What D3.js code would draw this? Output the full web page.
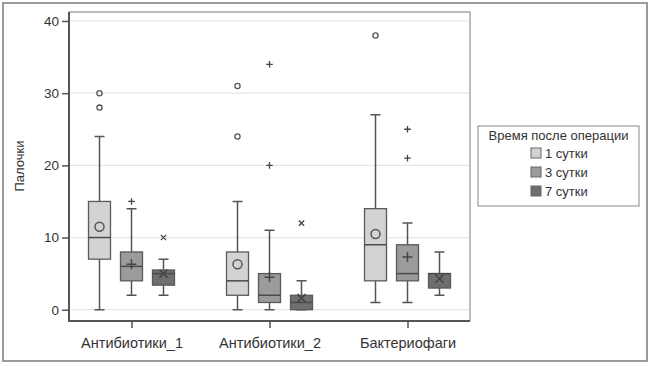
<!DOCTYPE html>
<html><head><meta charset="utf-8">
<script src="https://cdn.jsdelivr.net/npm/d3@7"></script>
<style>body{margin:0;background:#fff;} svg{display:block;}</style>
</head><body><svg id="c" width="650" height="365"></svg>
<script>
const categories = ["Антибиотики_1", "Антибиотики_2", "Бактериофаги"];
const seriesNames = ["1 сутки", "3 сутки", "7 сутки"];
const yTicks = [0, 10, 20, 30, 40];
// per category: [whiskerLow, Q1, median, Q3, whiskerHigh]
const stats1 = [[0, 7, 10, 15, 24], [0, 2, 4, 8, 15], [1, 4, 9, 14, 27]];
const stats3 = [[2, 4, 6, 8, 14], [0, 1, 2, 5, 11], [1, 4, 5, 9, 12]];
const stats7 = [[2, 3.4, 5, 5.5, 7], [0, 0, 1, 2, 4], [2, 3, 5, 5, 8]];
const means1 = [11.5, 6.3, 10.5];
const means3 = [6.3, 4.5, 7.3];
const means7 = [5, 1.6, 4.3];
const outliers1 = [[28, 30], [24, 31], [38]];
const outliers3 = [[15], [20, 34], [21, 25]];
const outliers7 = [[10], [12], []];
const fills = ["#d3d3d3", "#9b9b9b", "#6f6f6f"];
const shapes = ["circle", "plus", "cross"];

const svg = d3.select("#c");
const font = "'Liberation Sans', Arial, sans-serif";
// outer frame
svg.append("rect").attr("x", 3).attr("y", 3).attr("width", 644).attr("height", 358)
  .attr("fill", "none").attr("stroke", "#9a9a9a").attr("stroke-width", 2);

const L = 69, R = 470, T = 12, B = 321;
const y = d3.scaleLinear().domain([0, 40]).range([309.7, 21]);
const x = d3.scalePoint().domain(categories).range([131.5, 407.5]);
const off = d3.scalePoint().domain(seriesNames).range([-32, 32]);
const bw = 22, cap = 10;

// grid
svg.append("g").selectAll("line").data(yTicks).join("line")
  .attr("x1", L).attr("x2", R).attr("y1", d => y(d)).attr("y2", d => y(d))
  .attr("stroke", "#e6e6e6").attr("stroke-width", 1.2);
// plot frame top/right
svg.append("path").attr("d", `M${L},${T}H${R}V${B}`).attr("fill", "none")
  .attr("stroke", "#a8a8a8").attr("stroke-width", 1.5);

// axes
const yAxis = svg.append("g").attr("transform", `translate(${L},0)`)
  .call(d3.axisLeft(y).tickValues(yTicks).tickSize(7).tickPadding(3));
const xAxis = svg.append("g").attr("transform", `translate(0,${B})`)
  .call(d3.axisBottom(x).tickSize(7).tickPadding(10));
[yAxis, xAxis].forEach(g => {
  g.select(".domain").remove();
  g.selectAll("line").attr("stroke", "#555").attr("stroke-width", 1.5);
  g.selectAll("text").attr("fill", "#333").attr("font-family", font).attr("font-size", 13.5);
});
xAxis.selectAll("text").attr("font-size", 14.5);
svg.append("path").attr("d", `M${L},${T}V${B}H${R}`).attr("fill", "none")
  .attr("stroke", "#555").attr("stroke-width", 2);

svg.append("text").attr("transform", "translate(24,166) rotate(-90)")
  .attr("text-anchor", "middle").attr("font-family", font).attr("font-size", 13)
  .attr("fill", "#333").text("Палочки");

function marker(g, shape, cx, cy, s, sw) {
  if (shape === "circle") {
    g.append("circle").attr("cx", cx).attr("cy", cy).attr("r", s)
      .attr("fill", "none").attr("stroke", "#555").attr("stroke-width", sw);
  } else if (shape === "plus") {
    g.append("path").attr("d", `M${cx - s},${cy}H${cx + s}M${cx},${cy - s}V${cy + s}`)
      .attr("stroke", "#444").attr("stroke-width", sw);
  } else {
    const d = s * 0.8;
    g.append("path").attr("d", `M${cx - d},${cy - d}L${cx + d},${cy + d}M${cx - d},${cy + d}L${cx + d},${cy - d}`)
      .attr("stroke", "#444").attr("stroke-width", sw);
  }
}

const allStats = [stats1, stats3, stats7];
const allMeans = [means1, means3, means7];
const allOut = [outliers1, outliers3, outliers7];
const gB = svg.append("g");
seriesNames.forEach((sn, si) => {
  categories.forEach((cat, ci) => {
    const [lo, q1, med, q3, hi] = allStats[si][ci];
    const cx = x(cat) + off(sn);
    const g = gB.append("g");
    g.append("path").attr("d",
      `M${cx},${y(hi)}V${y(q3)}M${cx},${y(q1)}V${y(lo)}M${cx - cap / 2},${y(hi)}H${cx + cap / 2}M${cx - cap / 2},${y(lo)}H${cx + cap / 2}`)
      .attr("stroke", "#555").attr("stroke-width", 1.5).attr("fill", "none");
    g.append("rect").attr("x", cx - bw / 2).attr("y", y(q3)).attr("width", bw)
      .attr("height", Math.max(y(q1) - y(q3), 0)).attr("fill", fills[si])
      .attr("stroke", "#5a5a5a").attr("stroke-width", 1.3);
    g.append("line").attr("x1", cx - bw / 2).attr("x2", cx + bw / 2)
      .attr("y1", y(med)).attr("y2", y(med)).attr("stroke", "#4a4a4a").attr("stroke-width", 1.5);
    marker(g, shapes[si], cx, y(allMeans[si][ci]), si === 0 ? 4.5 : 5, 1.5);
    allOut[si][ci].forEach(v => marker(g, shapes[si], cx, y(v), si === 0 ? 2.6 : 3.3, 1.3));
  });
});

// legend
const lg = svg.append("g");
lg.append("rect").attr("x", 478).attr("y", 126).attr("width", 161).attr("height", 80)
  .attr("fill", "#fff").attr("stroke", "#888").attr("stroke-width", 1);
lg.append("text").attr("x", 558.5).attr("y", 139.5).attr("text-anchor", "middle")
  .attr("font-family", font).attr("font-size", 13).attr("fill", "#333").text("Время после операции");
seriesNames.forEach((sn, i) => {
  const yy = 153 + i * 19;
  lg.append("rect").attr("x", 531).attr("y", yy - 5).attr("width", 10).attr("height", 10)
    .attr("fill", fills[i]).attr("stroke", "#666").attr("stroke-width", 1);
  lg.append("text").attr("x", 545).attr("y", yy + 5).attr("font-family", font)
    .attr("font-size", 13).attr("fill", "#333").text(sn);
});
</script></body></html>
